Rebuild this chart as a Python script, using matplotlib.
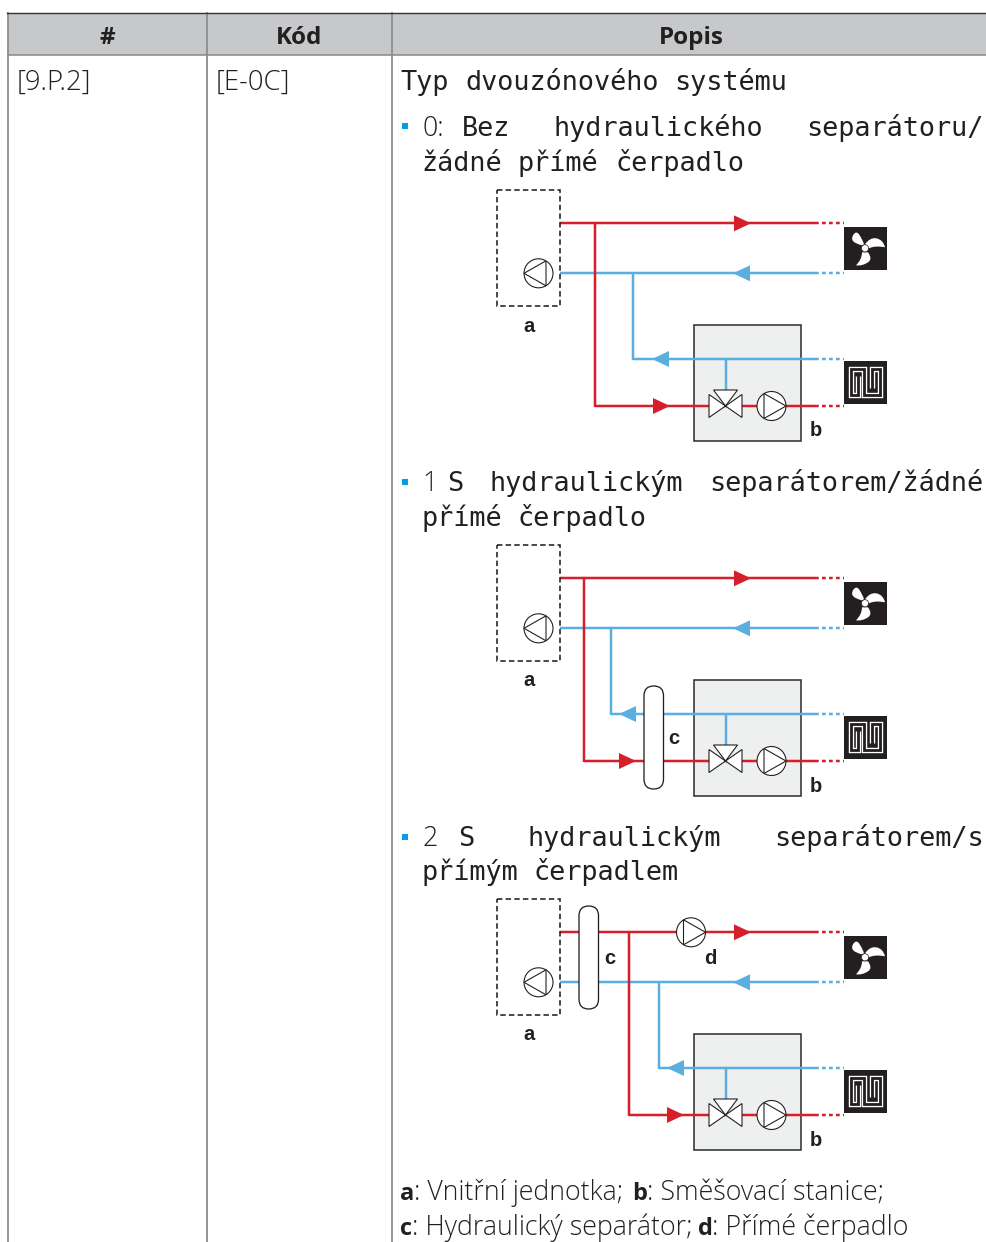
import matplotlib
matplotlib.use('Agg')
import matplotlib.pyplot as plt
from matplotlib.patches import Rectangle, Circle, Polygon, FancyBboxPatch, PathPatch
from matplotlib.path import Path

RED = '#d71f2b'
BLUE = '#5aaee0'
DARK = '#231f20'
GRID = '#8c8c8c'

# table text
header_labels = ['#', 'Kód', 'Popis']
header_x = [107, 299, 691]
col_lines = [8, 207, 392]
code_labels = ['[9.P.2]', '[E-0C]']
code_x = [17, 216]

# monospace lines: (baseline, [(x, word), ...])
mono_lines = [
    (90, [(400, 'Typ'), (465, 'dvouzónového'), (674, 'systému')]),
    (136, [(462, 'Bez'), (553, 'hydraulického'), (806, 'separátoru/')]),
    (171, [(421, 'žádné'), (518, 'přímé'), (615, 'čerpadlo')]),
    (491, [(447, 'S'), (489, 'hydraulickým'), (709, 'separátorem/žádné')]),
    (526, [(421, 'přímé'), (518, 'čerpadlo')]),
    (846, [(458, 'S'), (527, 'hydraulickým'), (774, 'separátorem/s')]),
    (880, [(421, 'přímým'), (534, 'čerpadlem')]),
]
bullet_y = [126, 482, 837]
bullet_text = ['0:', '1', '2']
bullet_base = [136, 491, 846]

legend_base = [1200, 1235]
legend_parts = [
    [(400, 'a', True), (414, ': Vnitřní jednotka;', False), (632, 'b', True), (647, ': Směšovací stanice;', False)],
    [(400, 'c', True), (412, ': Hydraulický separátor;', False), (698, 'd', True), (712, ': Přímé čerpadlo', False)],
]

# diagram geometry, one entry per diagram
dy = [0, 355, 709]
red_drop_x = [595, 584, 629]
blue_drop_x = [633, 611, 659]
lower_blue_tip = [652, 619, 667]
lower_red_tip = [670, 636, 684]
pill_x = [None, 644, 579]
pill_y = [None, 686, 906]
c_label = [None, (674, 738), (610, 958)]
d_pump_x = [None, None, 691]
d_label = [None, None, (711, 957)]

fan_blades = [
    [(-3, -3), (-16, -6), (-12, -13), (-9, -18), (-6, -14), (-2, -8), (-1, -4)],
    [(0, -4), (5, -11), (11, -10), (18, -9), (20, -1), (10, -3), (4, 0)],
    [(3, 4), (8, 11), (3, 14), (-3, 18), (-9, 17), (-3, 11), (-3, 4)],
]
heater_path = [(28, 27), (28, 8), (36, 8), (36, 34), (20, 34), (20, 8), (7, 8), (7, 34), (13.5, 34), (13.5, 15)]

fig = plt.figure(figsize=(9.87, 12.42), dpi=100)
ax = fig.add_axes([0, 0, 1, 1])
ax.set_xlim(0, 987)
ax.set_ylim(1242, 0)
ax.axis('off')


def px(v):
    return v * 0.72


def line(xs, ys, color, z=2, w=2.5, **kw):
    ax.plot(xs, ys, color=color, lw=px(w), zorder=z, solid_capstyle='butt', solid_joinstyle='miter', **kw)


def arrow(tip, y, direction, color):
    base = tip - direction * 17
    ax.add_patch(Polygon([(tip, y), (base, y - 8), (base, y + 8)], closed=True, fc=color, ec='none', zorder=4))


def pump(cx, cy, direction):
    ax.add_patch(Circle((cx, cy), 14.5, fc='white', ec=DARK, lw=px(1.1), zorder=5))
    ax.add_patch(Polygon([(cx + direction * 14.5, cy), (cx - direction * 7.5, cy - 12.5), (cx - direction * 7.5, cy + 12.5)],
                         closed=True, fc='white', ec=DARK, lw=px(1.1), zorder=6))


def valve(cx, cy):
    tris = [[(cx, cy), (cx - 16.5, cy - 11.5), (cx - 16.5, cy + 11.5)],
            [(cx, cy), (cx + 16.5, cy - 11.5), (cx + 16.5, cy + 11.5)],
            [(cx, cy), (cx - 12, cy - 16), (cx + 12, cy - 16)]]
    for t in tris:
        ax.add_patch(Polygon(t, closed=True, fc='white', ec=DARK, lw=px(1.1), zorder=5))


def fan(x0, y0):
    ax.add_patch(Rectangle((x0, y0), 43, 43, fc=DARK, ec='none', zorder=3))
    hub = (x0 + 21, y0 + 21.3)
    for b in fan_blades:
        verts = [(hub[0] + p[0], hub[1] + p[1]) for p in b] + [(hub[0] + b[0][0], hub[1] + b[0][1])]
        codes = [Path.MOVETO] + [Path.CURVE3] * 6 + [Path.LINETO]
        ax.add_patch(PathPatch(Path(verts, codes), fc='white', ec='none', zorder=4))
    ax.add_patch(Circle(hub, 3.6, fc='white', ec=DARK, lw=px(0.7), zorder=5))


def heater(x0, y0):
    ax.add_patch(Rectangle((x0, y0), 43, 43, fc=DARK, ec='none', zorder=3))
    xs = [x0 + p[0] for p in heater_path]
    ys = [y0 + p[1] for p in heater_path]
    ax.plot(xs, ys, color='white', lw=px(5.4), zorder=4, solid_joinstyle='miter', solid_capstyle='butt')
    ax.plot(xs, ys, color=DARK, lw=px(2.8), zorder=5, solid_joinstyle='miter', solid_capstyle='projecting')


def label(x, y, s):
    ax.text(x - 0.5, y + 1, s, family='Liberation Sans', weight='bold', fontsize=14.5, color=DARK, ha='center', va='center', zorder=7)


def diagram(i):
    o = dy[i]
    top, bot = 223.3 + o, 273.3 + o
    low_b, low_r = 359 + o, 406 + o
    # indoor unit
    ax.add_patch(Rectangle((497, 190 + o), 63, 115.5, fc='none', ec=DARK, lw=px(1.6), ls=(0, (3.4, 2)), zorder=3))
    pump(538.5, bot, -1)
    # mixing station
    ax.add_patch(Rectangle((694, 325 + o), 107, 116, fc='#eef0ef', ec='#333333', lw=px(1.6), zorder=1))
    # supply / return
    line([560, 815], [top, top], RED)
    line([560, 815], [bot, bot], BLUE)
    line([blue_drop_x[i], 815], [low_b, low_b], BLUE)
    line([red_drop_x[i], 815], [low_r, low_r], RED)
    line([red_drop_x[i]] * 2, [top, low_r + 1], RED)
    line([blue_drop_x[i]] * 2, [bot, low_b + 1], BLUE)
    line([725.5, 725.5], [low_b, low_r - 14], BLUE)
    for yy, c in [(top, RED), (bot, BLUE), (low_b, BLUE), (low_r, RED)]:
        ax.plot([815, 844], [yy, yy], color=c, lw=px(2.5), ls=(0, (1.5, 1.3)), zorder=2)
    arrow(751, top, 1, RED)
    arrow(733, bot, -1, BLUE)
    arrow(lower_blue_tip[i], low_b, -1, BLUE)
    arrow(lower_red_tip[i], low_r, 1, RED)
    valve(725.5, low_r)
    pump(771.5, low_r, 1)
    fan(844, 227 + o)
    heater(844, 361 + o)
    label(529, 325 + o, 'a')
    label(816, 430 + o, 'b')
    if pill_x[i] is not None:
        ax.add_patch(FancyBboxPatch((pill_x[i], pill_y[i]), 19.5, 103, boxstyle='round,pad=0,rounding_size=9.7',
                                    fc='white', ec=DARK, lw=px(1.3), zorder=6))
        label(c_label[i][0], c_label[i][1], 'c')
    if d_pump_x[i] is not None:
        pump(d_pump_x[i], top, 1)
        label(d_label[i][0], d_label[i][1], 'd')


# header band and grid
ax.add_patch(Rectangle((8, 13), 979, 42, fc='#c6c8ca', ec='none', zorder=0))
ax.plot([7, 987], [12.5, 12.5], color='#333333', lw=px(1.4), zorder=2)
ax.plot([8, 987], [55, 55], color=GRID, lw=px(1.6), zorder=1)
for x in col_lines:
    ax.plot([x, x], [13, 1242], color=GRID, lw=px(1.8), zorder=1)

for x, s in zip(header_x, header_labels):
    ax.text(x, 44, s, family='Open Sans', weight='bold', fontsize=17.5, color=DARK, ha='center', va='baseline')
for x, s in zip(code_x, code_labels):
    ax.text(x, 90, s, family='Open Sans', weight='light', fontsize=19.8, color=DARK, va='baseline')

for base, words in mono_lines:
    for x, w in words:
        ax.text(x, base, w, family='DejaVu Sans Mono', fontsize=19.35, color=DARK, va='baseline')

for y, s, base in zip(bullet_y, bullet_text, bullet_base):
    ax.add_patch(Rectangle((401.5, y - 3.2), 6.4, 6.4, fc='#00a0e4', ec='none'))
    ax.text(422, base, s, family='Open Sans', weight='light', fontsize=19.3, color=DARK, va='baseline')

for base, parts in zip(legend_base, legend_parts):
    for x, s, bold in parts:
        ax.text(x, base, s, family='Open Sans', weight='bold' if bold else 'light',
                fontsize=17 if bold else 19.3, color=DARK, va='baseline')

for i in range(3):
    diagram(i)

fig.savefig('out.png', dpi=100)
